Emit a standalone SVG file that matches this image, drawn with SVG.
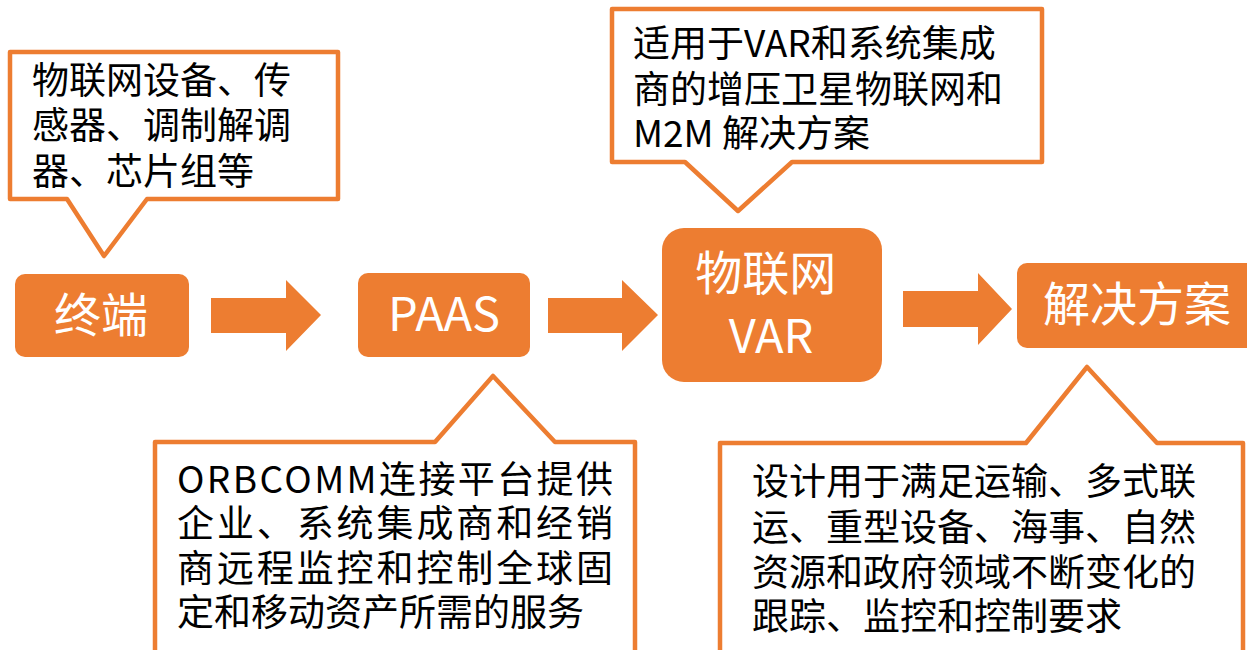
<svg xmlns="http://www.w3.org/2000/svg" width="1247" height="650" viewBox="0 0 1247 650">
  <style>
    .node { fill: #ED7D31; }
    .node-label { fill: #FFFFFF; font-family: "Noto Sans CJK SC", "Noto Sans", sans-serif; font-size: 47px; }
    .callout { fill: #FFFFFF; stroke: #ED7D31; stroke-width: 4.5; stroke-linejoin: round; }
    .note { fill: #000000; font-family: "Noto Sans CJK SC", "Noto Sans", sans-serif; font-size: 37px; }
    .arrow { fill: #ED7D31; }
  </style>

  <rect width="1247" height="650" fill="#FFFFFF"/>

  <!-- callout notes -->
  <g id="note-terminal">
    <path class="callout" d="M10,52 H338 V199 H147 L104,256 L67,199 H10 Z"/>
    <text class="note">
      <tspan x="32" y="94">物联网设备、传</tspan>
      <tspan x="32" y="139">感器、调制解调</tspan>
      <tspan x="32" y="185">器、芯片组等</tspan>
    </text>
  </g>

  <g id="note-var">
    <path class="callout" d="M612,9 H1042 V162 H792 L738,211 L685,162 H612 Z"/>
    <text class="note">
      <tspan x="633" y="57">适用于VAR和系统集成</tspan>
      <tspan x="633" y="103">商的增压卫星物联网和</tspan>
      <tspan x="633" y="147">M2M 解决方案</tspan>
    </text>
  </g>

  <g id="note-paas">
    <path class="callout" d="M155,442 H435 L493,376 L555,442 H635 V662 H155 Z"/>
    <text class="note">
      <tspan x="177" y="493" textLength="436" lengthAdjust="spacing">ORBCOMM连接平台提供</tspan>
      <tspan x="177" y="537" textLength="436" lengthAdjust="spacing">企业、系统集成商和经销</tspan>
      <tspan x="177" y="582" textLength="436" lengthAdjust="spacing">商远程监控和控制全球固</tspan>
      <tspan x="177" y="626">定和移动资产所需的服务</tspan>
    </text>
  </g>

  <g id="note-solution">
    <path class="callout" d="M720,443 H1026 L1087,367 L1157,443 H1243 V662 H720 Z"/>
    <text class="note">
      <tspan x="752" y="495">设计用于满足运输、多式联</tspan>
      <tspan x="752" y="541">运、重型设备、海事、自然</tspan>
      <tspan x="752" y="586">资源和政府领域不断变化的</tspan>
      <tspan x="752" y="630">跟踪、监控和控制要求</tspan>
    </text>
  </g>

  <!-- flow arrows -->
  <g id="connectors">
    <polygon class="arrow" points="211,298 286,298 286,280 321,315 286,351 286,333 211,333"/>
    <polygon class="arrow" points="548,298 622,298 622,280 658,315 622,351 622,333 548,333"/>
    <polygon class="arrow" points="903,291 978,291 978,273 1012,309 978,345 978,327 903,327"/>
  </g>

  <!-- process nodes -->
  <g id="node-terminal">
    <rect class="node" x="15" y="274" width="174" height="83" rx="10"/>
    <text class="node-label" x="101" y="332" text-anchor="middle">终端</text>
  </g>

  <g id="node-paas">
    <rect class="node" x="358" y="273" width="172" height="84" rx="10"/>
    <text class="node-label" x="444" y="331" text-anchor="middle">PAAS</text>
  </g>

  <g id="node-var">
    <rect class="node" x="662" y="228" width="220" height="154" rx="22"/>
    <text class="node-label" text-anchor="middle">
      <tspan x="771" y="290">物联网</tspan>
      <tspan x="771" y="353">VAR</tspan>
    </text>
  </g>

  <g id="node-solution">
    <rect class="node" x="1017" y="263" width="250" height="85" rx="10"/>
    <text class="node-label" x="1043" y="321">解决方案</text>
  </g>
</svg>
